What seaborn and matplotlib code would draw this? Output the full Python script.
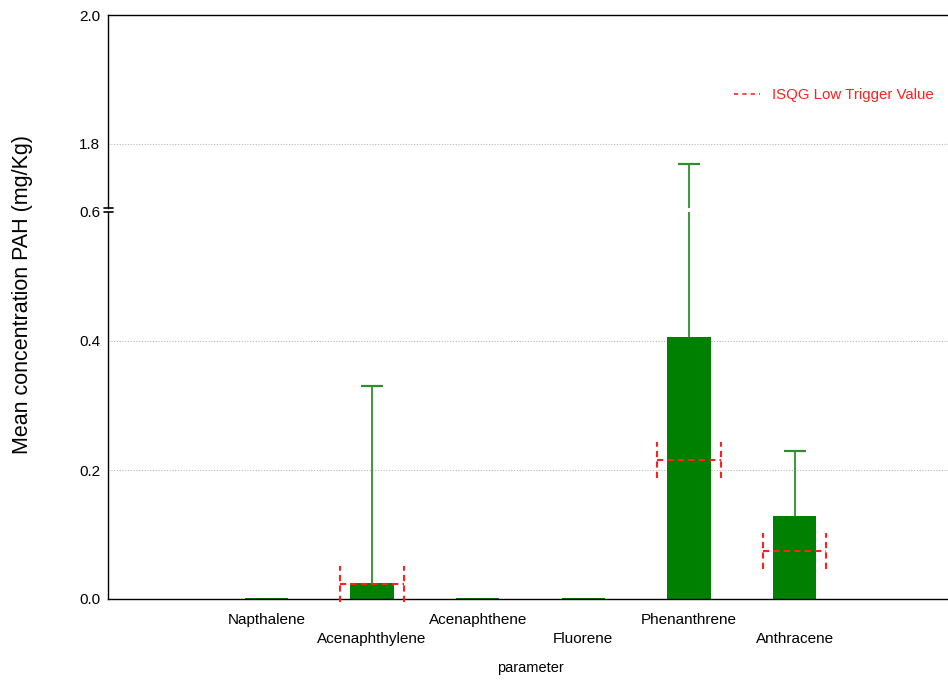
import numpy as np
import pandas as pd
import matplotlib
matplotlib.use("Agg")
import matplotlib.pyplot as plt
from matplotlib.lines import Line2D
import seaborn as sns

# ---------------- data ----------------
categories = ["Napthalene", "Acenaphthylene", "Acenaphthene", "Fluorene",
              "Phenanthrene", "Anthracene"]
mean_conc = [0.002, 0.025, 0.002, 0.002, 0.406, 0.129]
error_top = [np.nan, 0.330, np.nan, np.nan, 1.769, 0.229]
isqg_low = [np.nan, 0.023, np.nan, np.nan, 0.215, 0.075]
lower_yticks = [0.0, 0.2, 0.4, 0.6]
upper_yticks = [1.8, 2.0]
legend_label = "ISQG Low Trigger Value"

# ---------------- style ----------------
sns.set_style("white")
plt.rcParams["font.family"] = ["Liberation Sans", "DejaVu Sans"]
plt.rcParams["font.size"] = 11
plt.rcParams["text.color"] = "black"
plt.rcParams["axes.labelcolor"] = "black"

BAR = "#008000"
ERR = "#2f8f2f"
RED = "#ff2020"
GRID = "#b8b8b8"

W, H = 948, 682
fig = plt.figure(figsize=(W / 100, H / 100), dpi=100)

left = 108 / W
width = (953 - 108) / W
ax_hi = fig.add_axes([left, 1 - 208 / H, width, (208 - 15) / H])
ax_lo = fig.add_axes([left, 1 - 599 / H, width, (599 - 212) / H])

df = pd.DataFrame({"parameter": categories, "value": mean_conc})
sns.barplot(data=df, x="parameter", y="value", order=categories, color=BAR,
            saturation=1, width=0.41, linewidth=0, ax=ax_lo, errorbar=None)

pos = np.arange(len(categories))
means = np.array(mean_conc)
tops = np.array(error_top)
isq = np.array(isqg_low)
has_err = ~np.isnan(tops)

for ax in (ax_lo, ax_hi):
    eb = ax.errorbar(pos[has_err], means[has_err],
                     yerr=[np.zeros(has_err.sum()), tops[has_err] - means[has_err]],
                     fmt="none", ecolor=ERR, elinewidth=1.3, capsize=8,
                     capthick=1.6, zorder=3)
    caps = eb[1]
    if len(caps) == 2:
        caps[0].set_visible(False)

# ISQG markers
half_w = 0.3
half_h = 0.028
has_isq = ~np.isnan(isq)
ls = (0, (3, 2))
ax_lo.hlines(isq[has_isq], pos[has_isq] - half_w, pos[has_isq] + half_w,
             colors=RED, linestyles=[ls], linewidth=1.5, zorder=4)
for p, v in zip(pos[has_isq], isq[has_isq]):
    ax_lo.vlines([p - half_w, p + half_w], v - half_h, v + half_h,
                 colors=RED, linestyles=[ls], linewidth=1.5, zorder=4,
                 clip_on=False)

# axes limits / ticks
for ax in (ax_lo, ax_hi):
    ax.set_xlim(-1.5, len(categories) + 0.5)
    ax.grid(False)
    ax.yaxis.grid(True, linestyle=(0, (1, 1.5)), color=GRID, linewidth=0.8)
    ax.set_axisbelow(True)
    for s in ax.spines.values():
        s.set_color("black")
        s.set_linewidth(1.0)
    ax.tick_params(axis="y", direction="in", length=4, width=1,
                   labelsize=11, pad=5.5, colors="black")

ax_lo.set_ylim(0, 0.6)
ax_lo.set_yticks(lower_yticks)
ax_lo.set_yticklabels([f"{t:.1f}" for t in lower_yticks])
ax_hi.set_ylim(1.7, 2.0)
ax_hi.set_yticks(upper_yticks)
ax_hi.set_yticklabels([f"{t:.1f}" for t in upper_yticks])
ax_lo.get_ygridlines()[-1].set_visible(False)

ax_lo.spines["top"].set_visible(False)
ax_hi.spines["bottom"].set_visible(False)
ax_hi.set_xticks([])
ax_hi.set_xlabel("")
ax_hi.set_ylabel("")

xt = list(range(-1, len(categories) + 1))
xl = [""] + [c if i % 2 == 0 else "\n" + c for i, c in enumerate(categories)] + [""]
ax_lo.set_xticks(xt)
ax_lo.set_xticklabels(xl)
for lbl in ax_lo.get_xticklabels():
    lbl.set_linespacing(1.45)
ax_lo.tick_params(axis="x", direction="in", length=5, width=1, labelsize=11,
                  pad=10, colors="black")
ax_lo.set_xlabel("parameter", fontsize=10.5, labelpad=11, color="black")
ax_lo.set_ylabel("")

# break marks on left spine
for ax, y in ((ax_hi, 0.0), (ax_lo, 1.0)):
    ax.plot([-0.005, 0.006], [y, y], transform=ax.transAxes, color="black",
            linewidth=1.2, clip_on=False, zorder=5)

fig.text(22.5 / W, 1 - 294 / H, "Mean concentration PAH (mg/Kg)", rotation=90,
         ha="center", va="center", fontsize=15.5, color="black")

handle = Line2D([], [], color=RED, linestyle=(0, (2.5, 2.5)), linewidth=1.2)
fig.legend([handle], [legend_label], loc="center left",
           bbox_to_anchor=(726 / W, 1 - 95 / H), frameon=False, borderpad=0,
           handlelength=1.75, handletextpad=0.85, labelcolor=RED, fontsize=10.8)

fig.savefig("out.png", dpi=100)
